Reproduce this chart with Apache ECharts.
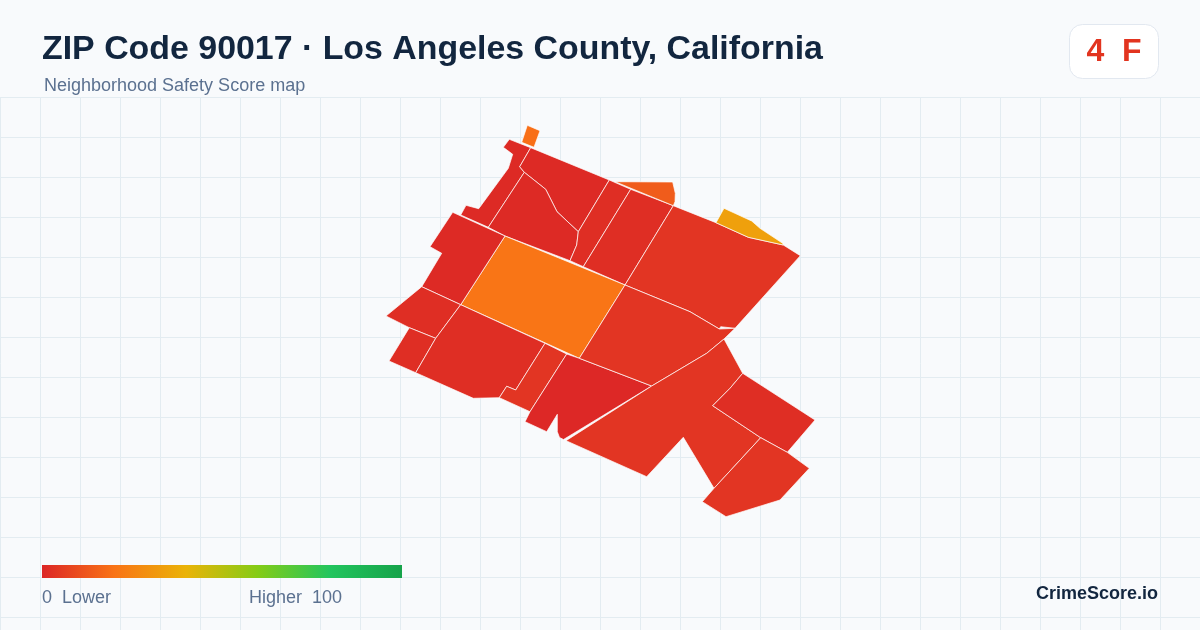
<!DOCTYPE html>
<html>
<head>
<meta charset="utf-8">
<title>ZIP Code 90017</title>
<script src="https://cdn.jsdelivr.net/npm/echarts@6/dist/echarts.min.js"></script>
<style>
  html, body { margin: 0; padding: 0; background: #f8fafc; }
  #chart { width: 1200px; height: 630px; }
</style>
</head>
<body>
<div id="chart"></div>
<script>
// score of each neighborhood
var areaNames = ['a01','a02','a03','a04','a05','a06','a07','a08','a09','a10','a11','a12','a13','a14','a15','a16','a17','a18','a19','a20'];
var areaScores = [19, 1, 1, 1, 2, 2, 4, 34, 14, 20.5, 1, 2, 2, 2, 4, 0.5, 4, 4, 2, 4];

// boundaries in map units (x east, y south)
var a01 = [[527.3,125.3],[540,130.7],[534,147.3],[521.7,142.3]];
var a02 = [[509.3,139.3],[530.7,147.7],[519.7,166.7],[524.3,172.3],[488.3,227.3],[460.7,215],[466,205.3],[478.7,208.7],[508.3,168.3],[512.7,154.3],[503.3,147.3]];
var a03 = [[530.7,147.7],[609.3,180],[578.3,231.7],[557,211.7],[545.7,189.3],[524.3,172.3],[519.7,166.7]];
var a04 = [[524.3,172.3],[545.7,189.3],[557,211.7],[578.3,231.7],[576.7,245],[570,260.7],[505,236],[488.3,227.3]];
var a05 = [[609.3,180],[630.7,189.3],[583.3,266.7],[570,260.7],[576.7,245],[578.3,231.7]];
var a06 = [[630.7,189.3],[673.3,205.7],[625,285],[583.3,266.7]];
var a07 = [[673.3,205.7],[716,222.7],[748.3,237.3],[783.3,245],[800.3,255.7],[735,328.3],[720.7,326.7],[719.3,329],[690,311.7],[625,285]];
var a08 = [[716,222.7],[724,208.3],[751.7,221],[760,228.3],[782.7,243.3],[783.3,245],[748.3,237.3]];
var a09 = [[615,181.7],[672.7,182],[675.3,193.3],[675,201.7],[673.3,205.7]];
var a10 = [[505,236],[625,285],[579.3,358.3],[460.7,304.7]];
var a11 = [[452.7,212.3],[505,236],[460.7,304.7],[421.7,286.7],[441.7,253.3],[430,246.7]];
var a12 = [[421.7,286.7],[460.7,304.7],[435.7,338.3],[409.3,327.7],[386,316]];
var a13 = [[409.3,327.7],[435.7,338.3],[415.7,372.7],[389,361]];
var a14 = [[460.7,304.7],[545,343.3],[515.7,390],[506.7,386.3],[499.3,397.7],[485,398],[473.3,398.3],[415.7,372.7],[435.7,338.3]];
var a15 = [[545,343.3],[566.7,354],[530,411.7],[499.3,397.7],[506.7,386.3],[515.7,390]];
var a16 = [[566.7,354],[579.3,358.3],[651.7,386],[563.5,439.5],[559.5,437.5],[557.3,431.7],[557.3,414.3],[546.7,431.7],[525,421.7],[530,411.7]];
var a17 = [[625,285],[690,311.7],[719.3,329],[735,328.3],[724,339],[706.7,353.3],[651.7,386],[579.3,358.3]];
var a18 = [[566,440.7],[651.7,386],[706.7,353.3],[724,339],[742.7,373.3],[730,388.3],[712.7,405.7],[760.7,437.7],[714,488.3],[683.3,437.3],[646.7,476.7]];
var a19 = [[742.7,373.3],[815,420],[787.3,452.3],[760.7,437.7],[712.7,405.7],[730,388.3]];
var a20 = [[760.7,437.7],[787.3,452.3],[809.3,468.3],[780,500],[726,516.7],[702.3,501.7],[714,488.3]];
var areaRings = [a01,a02,a03,a04,a05,a06,a07,a08,a09,a10,a11,a12,a13,a14,a15,a16,a17,a18,a19,a20];

var rampColors = ['#dc2626','#f97316','#eab308','#84cc16','#22c55e','#16a34a'];

var geoJson = {
    type: 'FeatureCollection',
    features: areaNames.map(function (name, i) {
        var ring = areaRings[i].map(function (p) { return [p[0], -p[1]]; });
        ring.push(ring[0]);
        return {
            type: 'Feature',
            properties: { name: name },
            geometry: { type: 'Polygon', coordinates: [ring] }
        };
    })
};
echarts.registerMap('zip90017', geoJson);

var textFont = '"Liberation Sans", Arial, sans-serif';
var chart = echarts.init(document.getElementById('chart'));
chart.setOption({
    animation: false,
    backgroundColor: '#f8fafc',
    title: [
        { text: 'ZIP Code 90017 · Los Angeles County, California', left: 42, top: 33, padding: 0,
          textStyle: { fontFamily: textFont, fontSize: 33.9, fontWeight: 'bold', color: '#12263f' } },
        { text: 'Neighborhood Safety Score map', left: 44, top: 77, padding: 0,
          textStyle: { fontFamily: textFont, fontSize: 18, fontWeight: 'normal', color: '#5b7190' } },
        { text: '0  Lower', left: 42, top: 589, padding: 0,
          textStyle: { fontFamily: textFont, fontSize: 18, fontWeight: 'normal', color: '#5b7190' } },
        { text: 'Higher  100', left: 249, top: 589, padding: 0,
          textStyle: { fontFamily: textFont, fontSize: 18, fontWeight: 'normal', color: '#5b7190' } },
        { text: 'CrimeScore.io', right: 42, top: 585, padding: 0,
          textStyle: { fontFamily: textFont, fontSize: 18, fontWeight: 'bold', color: '#12263f' } }
    ],
    grid: { left: 0, right: 0, top: 97, bottom: 0 },
    xAxis: { type: 'value', min: 0, max: 1200, interval: 40,
             axisLine: { show: false }, axisTick: { show: false }, axisLabel: { show: false },
             splitLine: { lineStyle: { color: '#e3ecf1', width: 1 } } },
    yAxis: { type: 'value', inverse: true, min: 0, max: 533, interval: 40,
             axisLine: { show: false }, axisTick: { show: false }, axisLabel: { show: false },
             splitLine: { lineStyle: { color: '#e3ecf1', width: 1 } } },
    visualMap: {
        type: 'continuous',
        show: false,
        min: 0,
        max: 100,
        seriesIndex: 0,
        inRange: { color: rampColors }
    },
    graphic: [
        { type: 'rect', z: 10, shape: { x: 42, y: 565, width: 360, height: 13 },
          style: { fill: new echarts.graphic.LinearGradient(0, 0, 1, 0, rampColors.map(function (c, i) {
              return { offset: i / (rampColors.length - 1), color: c };
          })) } },
        { type: 'rect', z: 10, shape: { x: 1069.5, y: 24.5, width: 89, height: 54, r: 13 },
          style: { fill: '#ffffff', stroke: '#e2e8f0', lineWidth: 1 } },
        { type: 'text', z: 11, x: 1114, y: 52,
          style: { text: '4  F', fill: '#e2341f', font: 'bold 32px ' + textFont, textAlign: 'center', textVerticalAlign: 'middle' } }
    ],
    series: [{
        type: 'map',
        map: 'zip90017',
        left: 386,
        top: 125.3,
        width: 429,
        height: 391.4,
        aspectScale: 1,
        roam: false,
        silent: true,
        selectedMode: false,
        label: { show: false },
        itemStyle: { borderColor: '#ffffff', borderWidth: 0.7 },
        emphasis: { disabled: true },
        data: areaNames.map(function (name, i) { return { name: name, value: areaScores[i] }; })
    }]
});
</script>
</body>
</html>
